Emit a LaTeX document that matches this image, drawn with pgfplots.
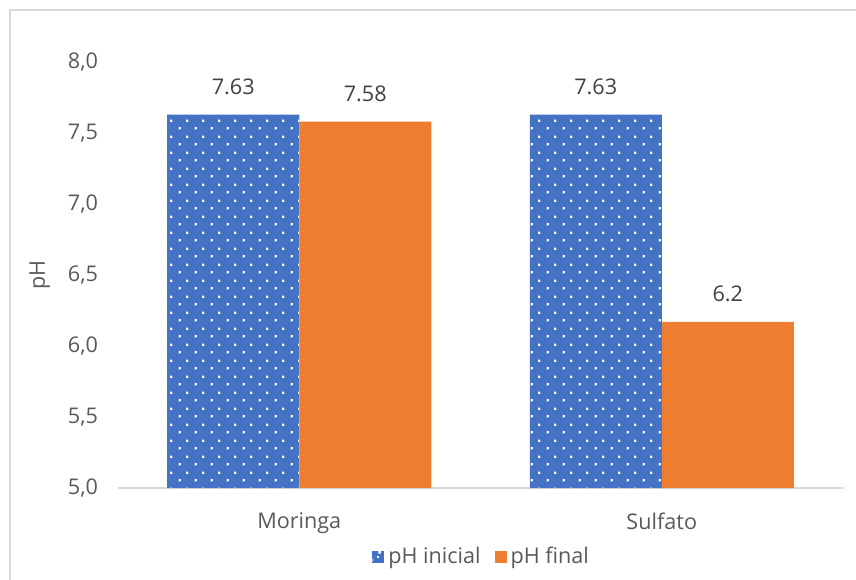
\documentclass[border=0pt]{standalone}
\usepackage{fontspec}
\setmainfont{Open Sans}
\usepackage{pgfplots}
\pgfplotsset{compat=1.18}
\usetikzlibrary{patterns.meta}
\definecolor{xblue}{HTML}{4472C4}
\definecolor{xorange}{HTML}{ED7D31}
\definecolor{txt}{HTML}{595959}
\definecolor{lbl}{HTML}{404040}
\definecolor{frame}{HTML}{D9D9D9}
\tikzdeclarepattern{
  name=wdots, type=uncolored,
  bottom left={(0pt,0pt)}, top right={(8pt,8pt)}, tile size={(8pt,8pt)},
  code={\fill (1.4pt,1.4pt) rectangle (2.6pt,2.6pt); \fill (5.4pt,5.4pt) rectangle (6.6pt,6.6pt);}
}
\begin{document}
\begin{tikzpicture}
\useasboundingbox (-59pt,-45.5pt) rectangle (369pt,244pt);
\draw[frame, line width=0.8pt] (-54pt,-46pt) -- (-54pt,239pt) -- (370pt,239pt);
\begin{axis}[
  at={(0pt,0pt)}, anchor=south west,
  scale only axis, width=362.5pt, height=213pt,
  xmin=-0.5, xmax=1.5, ymin=5, ymax=8,
  xtick={0,1}, xticklabels={Moringa,Sulfato},
  ytick={5,5.5,6,6.5,7,7.5,8},
  yticklabel style={/pgf/number format/use comma, /pgf/number format/fixed, /pgf/number format/fixed zerofill, /pgf/number format/precision=1, /pgf/number format/assume math mode=true, xshift=-6.5pt},
  tick label style={font=\fontsize{10.8}{12}\selectfont, text=txt},
  major tick length=0pt,
  separate axis lines,
  axis x line*=bottom,
  axis y line*=left,
  x axis line style={draw=frame, line width=0.8pt, -},
  y axis line style={draw=none},
  xticklabel style={yshift=-9pt},
  ylabel={pH}, ylabel style={font=\fontsize{10.8}{12}\selectfont, text=txt, anchor=center, at={(axis description cs:-0.108,0.5)}},
  ybar, bar width=66pt,
  nodes near coords, point meta=explicit symbolic,
  nodes near coords style={font=\fontsize{10.8}{12}\selectfont, text=lbl, yshift=6.5pt},
  legend style={at={(axis description cs:0.503,-0.162)}, anchor=center, draw=none, legend columns=2, font=\fontsize{10.8}{12}\selectfont, text=txt, /tikz/every even column/.append style={column sep=5pt}},
  legend cell align=left,
  clip=false,
]
\addplot+[ybar, bar shift=-33pt, draw=none, fill=xblue, postaction={pattern={wdots}, pattern color=white},
  legend image code/.code={\fill[xblue] (0pt,-3pt) rectangle (6pt,3pt); \fill[white] (2.5pt,-0.5pt) rectangle (3.5pt,0.5pt);}]
  coordinates {(0,7.63) [7.63] (1,7.63) [7.63]};
\addlegendentry{pH inicial}
\addplot+[ybar, bar shift=33pt, draw=none, fill=xorange,
  legend image code/.code={\fill[xorange] (0pt,-3pt) rectangle (6pt,3pt);}]
  coordinates {(0,7.58) [7.58] (1,6.17) [6.2]};
\addlegendentry{pH final}
\end{axis}
\end{tikzpicture}
\end{document}
